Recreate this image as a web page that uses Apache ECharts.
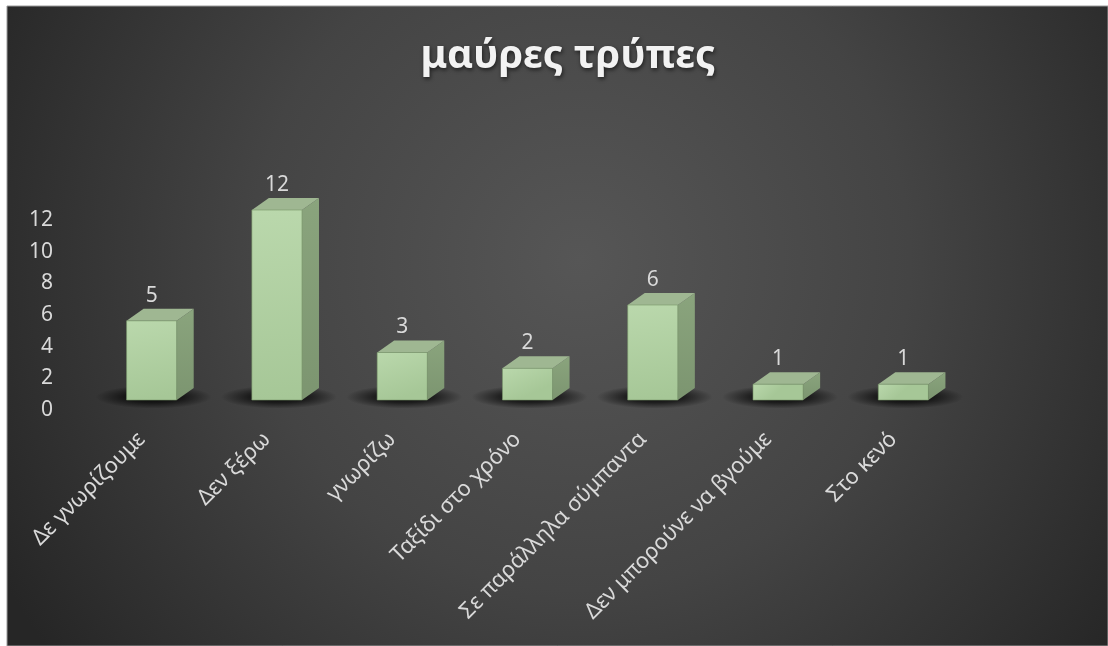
<!DOCTYPE html>
<html>
<head>
<meta charset="utf-8">
<style>
  html, body { margin: 0; padding: 0; background: #ffffff; }
  #chart { width: 1108px; height: 646px; }
</style>
<script src="https://cdn.jsdelivr.net/npm/echarts@6/dist/echarts.min.js"></script>
</head>
<body>
<div id="chart"></div>
<script>
// Survey answers about black holes
const categories = [
  'Δε γνωρίζουμε',
  'Δεν ξέρω',
  'γνωρίζω',
  'Ταξίδι στο χρόνο',
  'Σε παράλληλα σύμπαντα',
  'Δεν μπορούνε να βγούμε',
  'Στο κενό'
];
const counts = [5, 12, 3, 2, 6, 1, 1];
const yTicks = [0, 2, 4, 6, 8, 10, 12];

const chart = echarts.init(document.getElementById('chart'), null, { renderer: 'canvas' });

const FONT = '"Noto Sans", "Open Sans", sans-serif';
const DEPTH_X = 17;   // oblique depth of the boxes
const DEPTH_Y = 12;
const LIFT = 10;      // front face sits slightly above the axis baseline

function renderBox(params, api) {
  const idx = api.value(0);
  const v = api.value(1);
  const base = api.coord([idx, 0]);
  const top = api.coord([idx, v]);
  const bw = api.size([1, 0])[0] * 0.4;
  const x0 = base[0] - bw / 2;
  const x1 = base[0] + bw / 2;
  const yb = base[1] - LIFT;
  const yt = top[1] - LIFT;
  const cx = base[0] + 2;
  const cy = yb - 3;
  return {
    type: 'group',
    children: [
      {
        type: 'circle',
        shape: { cx: cx, cy: cy, r: 58 },
        originX: cx, originY: cy, scaleY: 0.2,
        style: {
          fill: {
            type: 'radial', x: 0.5, y: 0.5, r: 0.5,
            colorStops: [
              { offset: 0, color: 'rgba(0,0,0,0.9)' },
              { offset: 0.5, color: 'rgba(0,0,0,0.6)' },
              { offset: 1, color: 'rgba(0,0,0,0)' }
            ]
          }
        }
      },
      {
        type: 'polygon',
        shape: { points: [[x1, yb], [x1 + DEPTH_X, yb - DEPTH_Y], [x1 + DEPTH_X, yt - DEPTH_Y], [x1, yt]] },
        style: {
          fill: {
            type: 'linear', x: 0, y: 0, x2: 0, y2: 1,
            colorStops: [{ offset: 0, color: '#8aa47d' }, { offset: 1, color: '#7c9570' }]
          }
        }
      },
      {
        type: 'polygon',
        shape: { points: [[x0, yt], [x1, yt], [x1 + DEPTH_X, yt - DEPTH_Y], [x0 + DEPTH_X, yt - DEPTH_Y]] },
        style: { fill: '#9fb792' }
      },
      {
        type: 'rect',
        shape: { x: x0, y: yt, width: bw, height: yb - yt },
        style: {
          fill: {
            type: 'linear', x: 0, y: 0, x2: 0.3, y2: 1,
            colorStops: [{ offset: 0, color: '#bad8ac' }, { offset: 1, color: '#a6c797' }]
          },
          stroke: 'rgba(120,150,105,0.6)', lineWidth: 1
        }
      },
      {
        type: 'text',
        style: {
          text: String(v),
          x: base[0], y: yt - DEPTH_Y - 13,
          fill: '#d9d9d9',
          font: '21px ' + FONT,
          align: 'center', verticalAlign: 'middle'
        }
      }
    ]
  };
}

chart.setOption({
  backgroundColor: '#ffffff',
  animation: false,
  title: {
    text: 'μαύρες τρύπες',
    left: 563,
    textAlign: 'center',
    top: 32,
    textStyle: {
      color: '#f2f2f2',
      fontFamily: FONT,
      fontSize: 40,
      fontWeight: 'bold',
      textShadowColor: 'rgba(0,0,0,0.6)',
      textShadowBlur: 4,
      textShadowOffsetX: 1,
      textShadowOffsetY: 2
    }
  },
  graphic: [
    {
      type: 'rect', z: -10, silent: true,
      shape: { x: 7, y: 6, width: 1101, height: 640 },
      style: {
        fill: {
          type: 'radial', x: 580, y: 260, r: 660, global: true,
          colorStops: [
            { offset: 0, color: '#565656' },
            { offset: 0.5, color: '#444444' },
            { offset: 1, color: '#262626' }
          ]
        },
        stroke: '#9a9a9a', lineWidth: 1
      }
    }
  ],
  grid: { left: 89, right: 142, top: 220, bottom: 236 },
  xAxis: {
    type: 'category',
    data: categories,
    axisLine: { show: false },
    axisTick: { show: false },
    splitLine: { show: false },
    axisLabel: {
      interval: 0,
      rotate: 45,
      margin: 16,
      padding: [0, 14, 0, 0],
      color: '#d9d9d9',
      fontFamily: FONT,
      fontSize: 22
    }
  },
  yAxis: {
    type: 'value',
    min: yTicks[0],
    max: yTicks[yTicks.length - 1],
    interval: 2,
    axisLine: { show: false },
    axisTick: { show: false },
    splitLine: { show: false },
    axisLabel: {
      margin: 36,
      color: '#d9d9d9',
      fontFamily: FONT,
      fontSize: 21
    }
  },
  series: [
    {
      type: 'custom',
      renderItem: renderBox,
      clip: false,
      data: counts.map((c, i) => [i, c])
    }
  ]
});
</script>
</body>
</html>
